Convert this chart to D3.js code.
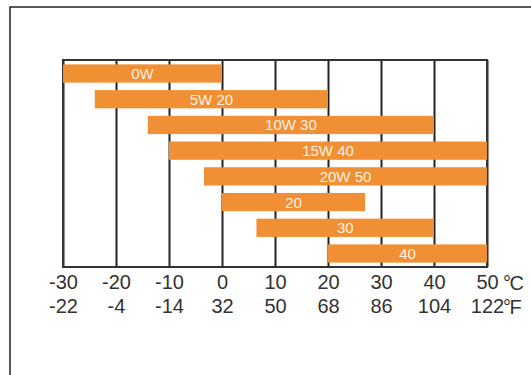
<!DOCTYPE html>
<html>
<head>
<meta charset="utf-8">
<script src="https://cdn.jsdelivr.net/npm/d3@7"></script>
<style>
  body { margin: 0; background: #fff; }
  svg { display: block; }
</style>
</head>
<body>
<svg width="531" height="375"></svg>
<script>
// oil grades and their temperature range (deg C)
var grades = ["0W", "5W 20", "10W 30", "15W 40", "20W 50", "20", "30", "40"];
var lowC  = [-30, -24, -14, -10, -3.4, 0, 6.5, 20];
var highC = [0, 20, 40, 50, 50, 27, 40, 50];
var ticksC = [-30, -20, -10, 0, 10, 20, 30, 40, 50];
var labelsF = ["-22", "-4", "-14", "32", "50", "68", "86", "104", "122"];

function main() {
    var svg = d3.select("svg");
    var left = 63, right = 487, top = 60, bottom = 267;
    var height = bottom - top;
    var font = "Liberation Sans, Arial, sans-serif";

    // outer frame (only top and left visible)
    svg.append("path")
        .attr("d", "M10,375V7H531")
        .attr("fill", "none")
        .attr("stroke", "#222")
        .attr("stroke-width", 1.5);

    var x = d3.scaleLinear().domain([-30, 50]).range([left, right]);
    var y = d3.scaleBand().domain(grades).range([top, bottom])
        .paddingInner(0.29).paddingOuter(0.17);

    // vertical grid lines
    var grid = svg.append("g").attr("transform", "translate(0," + bottom + ")")
        .call(d3.axisBottom(x).tickValues(ticksC).tickSize(-height).tickFormat(""));
    grid.select(".domain").remove();
    grid.selectAll("line").attr("stroke", "#222").attr("stroke-width", 2);

    svg.append("rect")
        .attr("x", left).attr("y", top)
        .attr("width", right - left).attr("height", height)
        .attr("fill", "none").attr("stroke", "#333").attr("stroke-width", 2);

    var data = grades.map(function(g, i) { return {g: g, lo: lowC[i], hi: highC[i]}; });

    svg.selectAll(".bar").data(data).enter().append("rect")
        .attr("class", "bar")
        .attr("x", function(d) { return x(d.lo); })
        .attr("y", function(d) { return y(d.g); })
        .attr("width", function(d) { return x(d.hi) - x(d.lo); })
        .attr("height", y.bandwidth())
        .attr("fill", "#F08F33");

    svg.selectAll(".lbl").data(data).enter().append("text")
        .attr("class", "lbl")
        .attr("x", function(d) { return (x(d.lo) + x(d.hi)) / 2; })
        .attr("y", function(d) { return y(d.g) + y.bandwidth() / 2 + 5.5; })
        .attr("text-anchor", "middle")
        .attr("font-family", font)
        .attr("font-size", "15px")
        .attr("fill", "#fdf1e4")
        .text(function(d) { return d.g; });

    // celsius row
    var axC = svg.append("g").attr("transform", "translate(0," + bottom + ")")
        .call(d3.axisBottom(x).tickValues(ticksC).tickSize(0).tickPadding(8)
            .tickFormat(function(d) { return String(d); }));
    // fahrenheit row
    var axF = svg.append("g").attr("transform", "translate(0," + (bottom + 24) + ")")
        .call(d3.axisBottom(x).tickValues(ticksC).tickSize(0).tickPadding(8)
            .tickFormat(function(d, i) { return labelsF[i]; }));
    [axC, axF].forEach(function(a) {
        a.select(".domain").remove();
        a.selectAll("text")
            .attr("font-family", font)
            .attr("font-size", "20px")
            .attr("fill", "#333");
    });

    // unit marks
    var units = [["°C", 290], ["°F", 314]];
    units.forEach(function(u) {
        svg.append("text").attr("x", 503).attr("y", u[1])
            .attr("font-family", font).attr("font-size", "20px")
            .attr("letter-spacing", "-1.5px")
            .attr("fill", "#333").text(u[0]);
    });
}

main();
</script>
</body>
</html>
